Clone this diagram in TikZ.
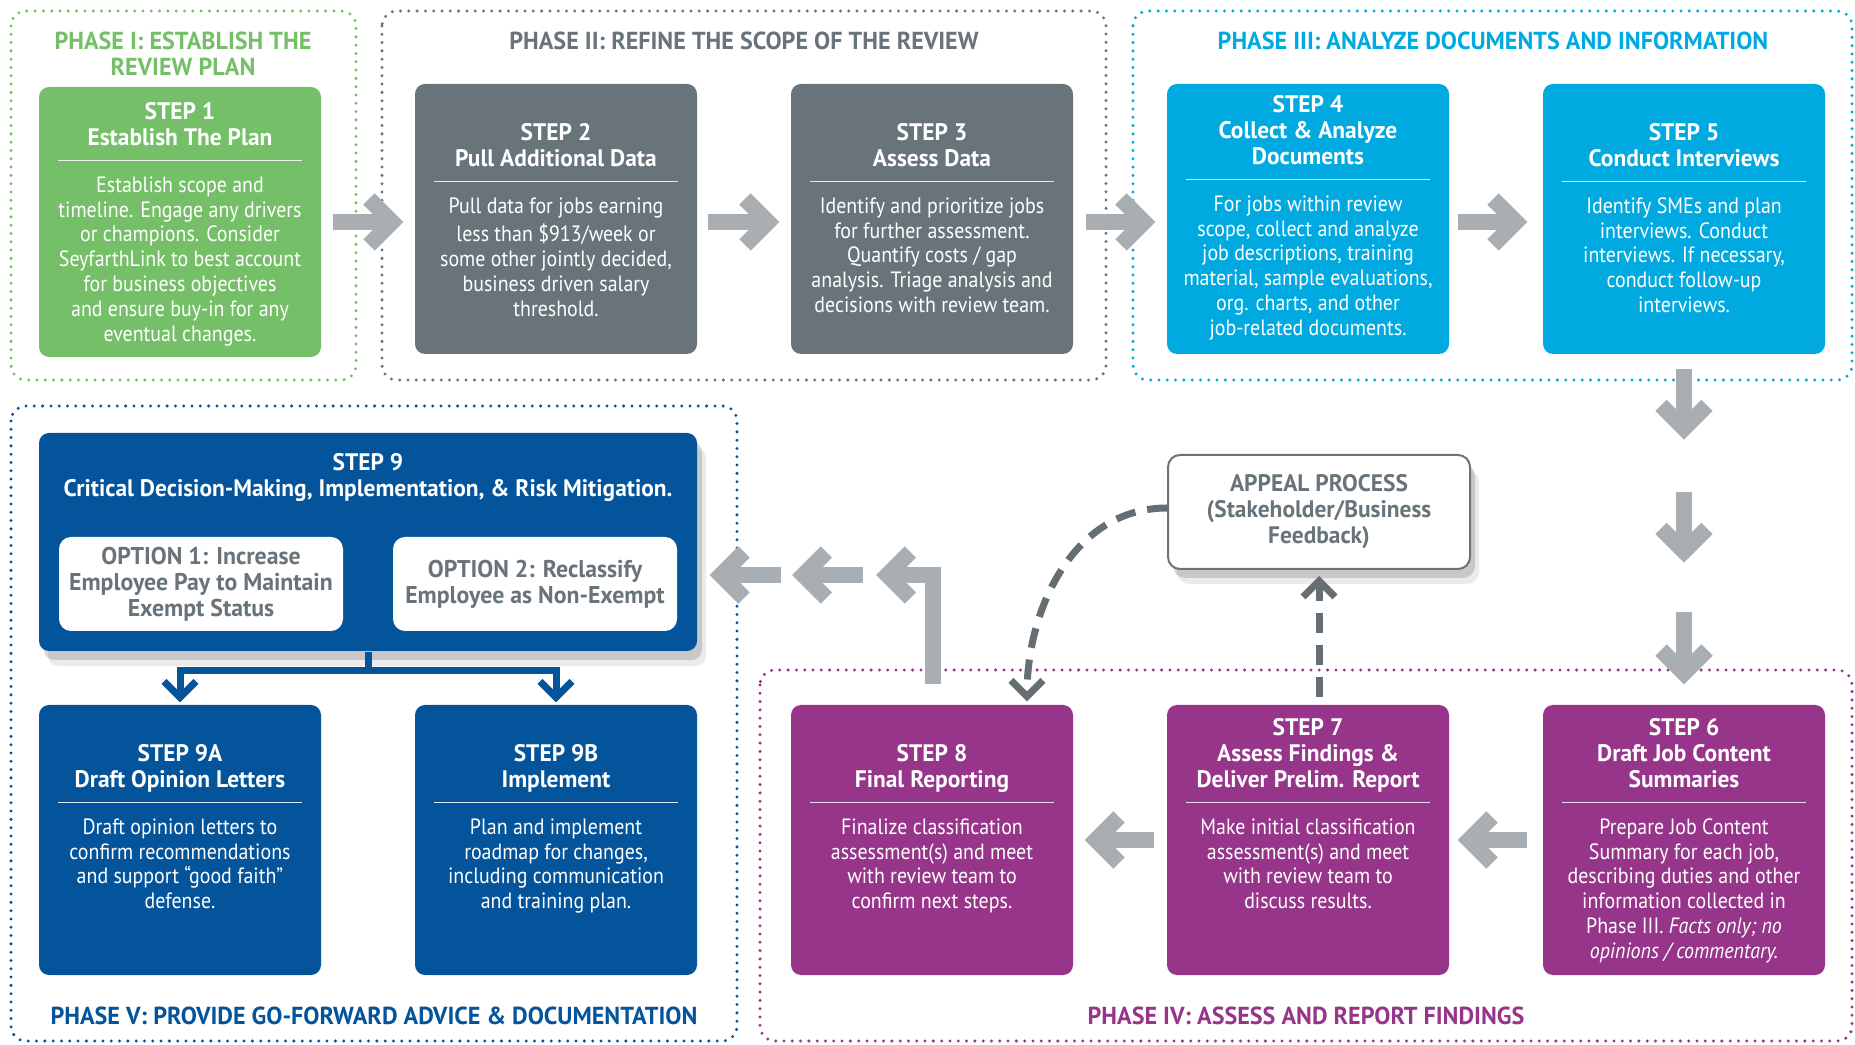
\documentclass[tikz,border=0pt]{standalone}
\usepackage{fontspec}
\setmainfont{PT Sans}[FakeStretch=0.9, BoldFeatures={FakeStretch=0.98}]
\usetikzlibrary{calc, arrows.meta, shadows}
\definecolor{phgreen}{HTML}{74BF68}
\definecolor{phgray}{HTML}{68737A}
\definecolor{phblue}{HTML}{00A9DF}
\definecolor{phpurple}{HTML}{96358A}
\definecolor{phnavy}{HTML}{03549A}
\definecolor{arrgray}{HTML}{A9AEB2}
\definecolor{dashgray}{HTML}{646E73}

\begin{document}
\begin{tikzpicture}[x=0.1mm, y=-0.1mm]
        \tikzset{phase/.style = {line width=0.33mm, dash pattern=on 0pt off 0.83mm, line cap=round, rounded corners=1.5mm}}
        \tikzset{phasetitle/.style = {font=\bfseries\fontsize{7}{7.4}\selectfont, align=center, inner sep=0}}
        \tikzset{stepbox/.style = {rounded corners=1mm, minimum width=28.2mm, minimum height=27mm, inner sep=0}}
        \tikzset{stephead/.style = {font=\bfseries\fontsize{6.8}{7.4}\selectfont, text=white, align=center, anchor=south, inner sep=0}}
        \tikzset{stepbody/.style = {font=\fontsize{6.3}{7.05}\selectfont, text=white, align=center, anchor=north, inner sep=0}}
        \tikzset{steprule/.style = {draw=white, draw opacity=0.85, line width=0.15mm}}
        \tikzset{optbox/.style = {fill=white, rounded corners=1.2mm, minimum width=28.4mm, minimum height=9.4mm, inner sep=0, align=center, text=phgray, font=\bfseries\fontsize{6.9}{7.4}\selectfont}}
        \tikzset{softshadow/.style = {drop shadow={shadow xshift=0.5mm, shadow yshift=-0.9mm, opacity=0.15, fill=black}, drop shadow={shadow xshift=0.9mm, shadow yshift=-1.5mm, opacity=0.08, fill=black}}}
        \tikzset{bigarrow/.style = {draw=arrgray, line width=1.6mm, -{Straight Barb[length=2.3mm, width=4.6mm]}}}
        \tikzset{navyarrow/.style = {draw=phnavy, line width=0.7mm, -{Straight Barb[length=1.6mm, width=3.2mm]}}}
        \tikzset{dasharrow/.style = {draw=dashgray, line width=0.7mm, dash pattern=on 2mm off 1.2mm, -{Straight Barb[length=1.6mm, width=3.2mm]}}}
        \useasboundingbox (0, 0) rectangle (1855, 1045);
        \draw[phase, draw=phgreen] (11, 11) rectangle (356, 380);
        \draw[phase, draw=phgray] (382, 11) rectangle (1106, 380);
        \draw[phase, draw=phblue] (1133, 11) rectangle (1852, 380);
        \draw[phase, draw=phnavy] (11, 406) rectangle (737, 1041);
        \draw[phase, draw=phpurple] (760, 670) rectangle (1852, 1041);
        \node[phasetitle, text=phgreen] (p1) at (183, 54) {PHASE I: ESTABLISH THE\\REVIEW PLAN};
        \node[phasetitle, text=phgray] (p2) at (744, 41) {PHASE II: REFINE THE SCOPE OF THE REVIEW};
        \node[phasetitle, text=phblue] (p3) at (1493, 41) {PHASE III: ANALYZE DOCUMENTS AND INFORMATION};
        \node[phasetitle, text=phpurple] (p4) at (1306, 1016) {PHASE IV: ASSESS AND REPORT FINDINGS};
        \node[phasetitle, text=phnavy] (p5) at (374, 1016) {PHASE V: PROVIDE GO-FORWARD ADVICE \& DOCUMENTATION};

        \node[stepbox, fill=phgreen] (s1) at (180, 222) {};
        \node[stepbox, fill=phgray] (s2) at (556, 219) {};
        \node[stepbox, fill=phgray] (s3) at (932, 219) {};
        \node[stepbox, fill=phblue] (s4) at (1308, 219) {};
        \node[stepbox, fill=phblue] (s5) at (1684, 219) {};
        \node[stepbox, fill=phpurple] (s6) at (1684, 840) {};
        \node[stepbox, fill=phpurple] (s7) at (1308, 840) {};
        \node[stepbox, fill=phpurple] (s8) at (932, 840) {};
        \node[stepbox, fill=phnavy] (s9a) at (180, 840) {};
        \node[stepbox, fill=phnavy] (s9b) at (556, 840) {};

        \draw[steprule] ($(s1.north west)+(20, 74)$) -- ($(s1.north east)+(-20, 74)$);
        \node[stephead] (h1) at ($(s1.north)+(0, 68)$) {STEP 1\\Establish The Plan\strut};
        \node[stepbody] (t1) at ($(s1.north)+(0, 88)$) {\strut Establish scope and\\timeline. Engage any drivers\\or champions. Consider\\SeyfarthLink to best account\\for business objectives\\and ensure buy-in for any\\eventual changes.};

        \draw[steprule] ($(s2.north west)+(20, 98)$) -- ($(s2.north east)+(-20, 98)$);
        \node[stephead] (h2) at ($(s2.north)+(0, 92)$) {STEP 2\\Pull Additional Data\strut};
        \node[stepbody] (t2) at ($(s2.north)+(0, 112)$) {\strut Pull data for jobs earning\\less than \$913/week or\\some other jointly decided,\\business driven salary\\threshold.};

        \draw[steprule] ($(s3.north west)+(20, 98)$) -- ($(s3.north east)+(-20, 98)$);
        \node[stephead] (h3) at ($(s3.north)+(0, 92)$) {STEP 3\\Assess Data\strut};
        \node[stepbody] (t3) at ($(s3.north)+(0, 112)$) {\strut Identify and prioritize jobs\\for further assessment.\\Quantify costs / gap\\analysis. Triage analysis and\\decisions with review team.};

        \draw[steprule] ($(s4.north west)+(20, 96)$) -- ($(s4.north east)+(-20, 96)$);
        \node[stephead] (h4) at ($(s4.north)+(0, 90)$) {STEP 4\\Collect \& Analyze\\Documents\strut};
        \node[stepbody] (t4) at ($(s4.north)+(0, 110)$) {\strut For jobs within review\\scope, collect and analyze\\job descriptions, training\\material, sample evaluations,\\org. charts, and other\\job-related documents.};

        \draw[steprule] ($(s5.north west)+(20, 98)$) -- ($(s5.north east)+(-20, 98)$);
        \node[stephead] (h5) at ($(s5.north)+(0, 92)$) {STEP 5\\Conduct Interviews\strut};
        \node[stepbody] (t5) at ($(s5.north)+(0, 112)$) {\strut Identify SMEs and plan\\interviews. Conduct\\interviews. If necessary,\\conduct follow-up\\interviews.};

        \draw[steprule] ($(s6.north west)+(20, 98)$) -- ($(s6.north east)+(-20, 98)$);
        \node[stephead] (h6) at ($(s6.north)+(0, 92)$) {STEP 6\\Draft Job Content\\Summaries\strut};
        \node[stepbody] (t6) at ($(s6.north)+(0, 112)$) {\strut Prepare Job Content\\Summary for each job,\\describing duties and other\\information collected in\\Phase III. \textit{Facts only; no}\\\textit{opinions / commentary.}};

        \draw[steprule] ($(s7.north west)+(20, 98)$) -- ($(s7.north east)+(-20, 98)$);
        \node[stephead] (h7) at ($(s7.north)+(0, 92)$) {STEP 7\\Assess Findings \&\\Deliver Prelim. Report\strut};
        \node[stepbody] (t7) at ($(s7.north)+(0, 112)$) {\strut Make initial classification\\assessment(s) and meet\\with review team to\\discuss results.};

        \draw[steprule] ($(s8.north west)+(20, 98)$) -- ($(s8.north east)+(-20, 98)$);
        \node[stephead] (h8) at ($(s8.north)+(0, 92)$) {STEP 8\\Final Reporting\strut};
        \node[stepbody] (t8) at ($(s8.north)+(0, 112)$) {\strut Finalize classification\\assessment(s) and meet\\with review team to\\confirm next steps.};

        \draw[steprule] ($(s9a.north west)+(20, 98)$) -- ($(s9a.north east)+(-20, 98)$);
        \node[stephead] (h9a) at ($(s9a.north)+(0, 92)$) {STEP 9A\\Draft Opinion Letters\strut};
        \node[stepbody] (t9a) at ($(s9a.north)+(0, 112)$) {\strut Draft opinion letters to\\confirm recommendations\\and support “good faith”\\defense.};

        \draw[steprule] ($(s9b.north west)+(20, 98)$) -- ($(s9b.north east)+(-20, 98)$);
        \node[stephead] (h9b) at ($(s9b.north)+(0, 92)$) {STEP 9B\\Implement\strut};
        \node[stepbody] (t9b) at ($(s9b.north)+(0, 112)$) {\strut Plan and implement\\roadmap for changes,\\including communication\\and training plan.};

        \node[stepbox, fill=phnavy, minimum width=65.8mm, minimum height=21.8mm, softshadow] (s9) at (368, 542) {};
        \node[stephead, anchor=north] (h9) at (368, 453) {STEP 9\\Critical Decision-Making, Implementation, \& Risk Mitigation.};
        \node[optbox] (o1) at (201, 584) {OPTION 1: Increase\\Employee Pay to Maintain\\Exempt Status};
        \node[optbox] (o2) at (535, 584) {OPTION 2: Reclassify\\Employee as Non-Exempt};

        \node[optbox, draw=phgray, line width=0.2mm, minimum width=30.2mm, minimum height=11.4mm, font=\bfseries\fontsize{6.8}{7.4}\selectfont, softshadow] (ap) at (1319, 512) {APPEAL PROCESS\\(Stakeholder/Business\\Feedback)};

        \draw[bigarrow, shorten <=1.1mm, shorten >=1.1mm] (s1.east) -- (s1.east -| s2.west);
        \draw[bigarrow, shorten <=1mm, shorten >=1.1mm] ([yshift=-0.3mm]s2.east) -- ([yshift=-0.3mm]s3.west);
        \draw[bigarrow, shorten <=1.2mm, shorten >=1.1mm] ([yshift=-0.3mm]s3.east) -- ([yshift=-0.3mm]s4.west);
        \draw[bigarrow, shorten <=0.8mm, shorten >=1.5mm] ([yshift=-0.3mm]s4.east) -- ([yshift=-0.3mm]s5.west);
        \draw[bigarrow] ($(s5.south)+(0, 14)$) -- ++(0, 71);
        \draw[bigarrow] ($(s5.south)+(0, 137)$) -- ++(0, 71);
        \draw[bigarrow] ($(s6.north)+(0, -92)$) -- ++(0, 72);
        \draw[bigarrow, shorten <=1.5mm, shorten >=0.8mm] (s6.west) -- (s7.east);
        \draw[bigarrow, shorten <=1.2mm, shorten >=1.1mm] (s7.west) -- (s8.east);

        \coordinate (k1) at (876, 575);
        \coordinate (k2) at (863, 575);
        \coordinate (k3) at (792, 575);
        \coordinate (k4) at (781, 575);
        \draw[bigarrow] ($(s8.north)+(1, -20)$) |- (k1);
        \draw[bigarrow] (k2) -- (k3);
        \draw[bigarrow] (k4) -- ($(k4 -| s9.east)+(12, 0)$);

        \draw[navyarrow, shorten >=0.2mm] (s9.south) -- ++(0, 19) -| (s9a.north);
        \draw[navyarrow, shorten >=0.2mm] (s9.south) -- ++(0, 19) -| (s9b.north);

        \draw[dasharrow, shorten <=0.7mm, shorten >=0.6mm] (s7.north -| ap.south) -- (ap.south);
        \draw[dasharrow, shorten >=0.3mm] ([yshift=0.4mm]ap.west) to[out=180, in=90] ($(s8.north)+(95, 0)$);
      \end{tikzpicture}
\end{document}
